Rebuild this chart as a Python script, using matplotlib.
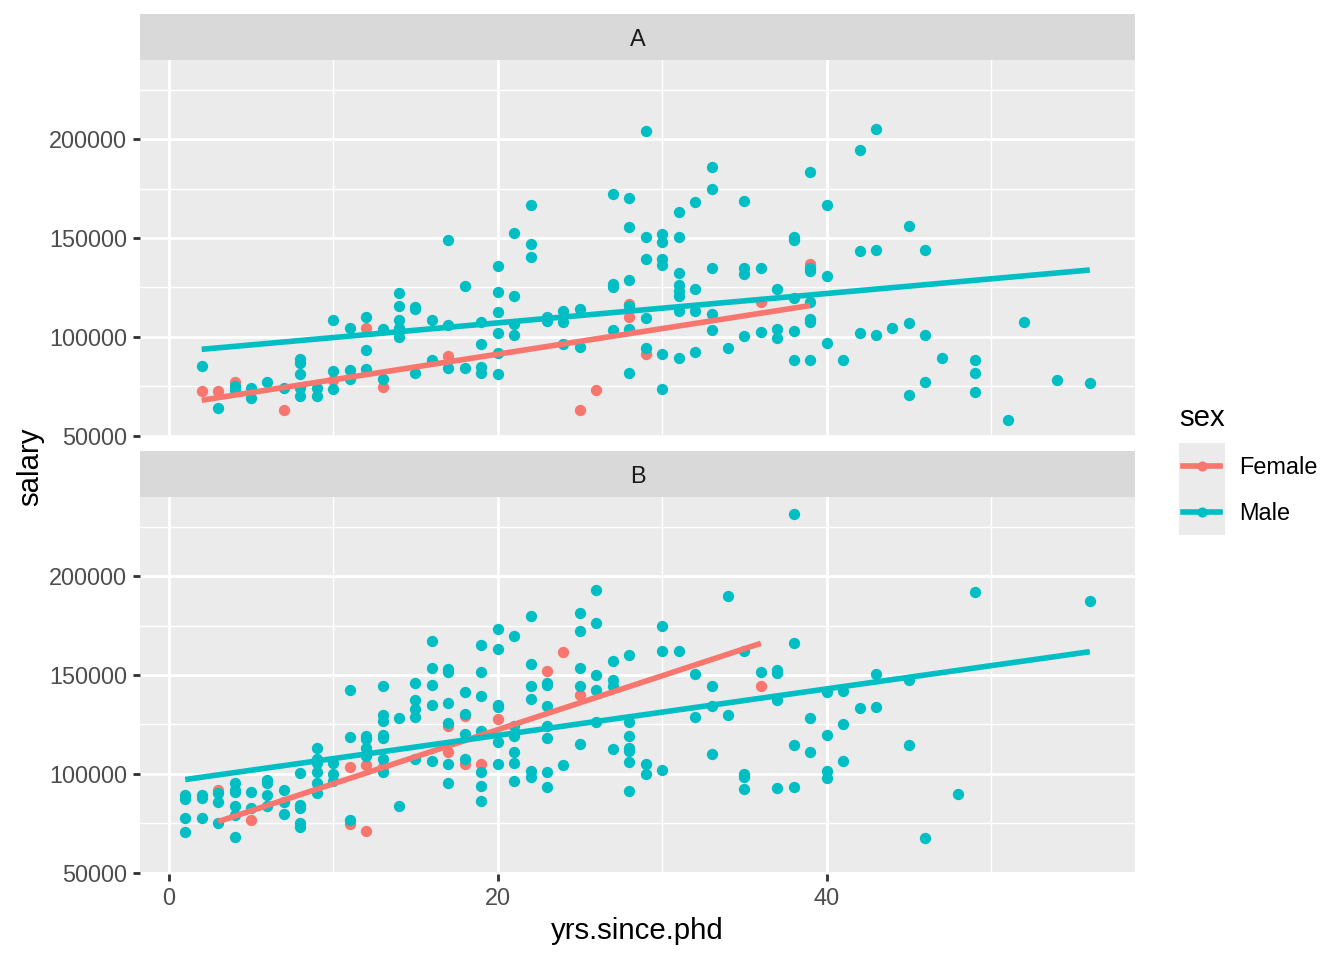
import numpy as np
import matplotlib
matplotlib.use("Agg")
import matplotlib.pyplot as plt
from matplotlib.patches import Rectangle
from matplotlib.lines import Line2D

plt.rcParams['font.family'] = ['Liberation Sans', 'DejaVu Sans']

# (yrs.since.phd, salary)
a_male = [(2, 85000), (3, 64000), (4, 75000), (4, 73000), (5, 74200), (5, 69200), (6, 77300), (7, 74200),
          (8, 88900), (8, 87000), (8, 81000), (8, 74200), (8, 70000), (9, 74200), (9, 70300),
          (10, 108500), (10, 82700), (10, 73700), (11, 104700), (11, 83200), (11, 78500),
          (12, 110000), (12, 93200), (12, 83600), (13, 103900), (13, 78500),
          (14, 122200), (14, 115400), (14, 108500), (14, 104700), (14, 100000),
          (15, 115000), (15, 114000), (15, 81500), (16, 108500), (16, 88300),
          (17, 148800), (17, 106000), (17, 84100), (18, 125900), (18, 84100),
          (19, 107300), (19, 96300), (19, 84700), (19, 81900),
          (20, 135800), (20, 122500), (20, 112400), (20, 102200), (20, 92000), (20, 81400),
          (21, 152500), (21, 120800), (21, 106400), (21, 101000),
          (22, 166800), (22, 147000), (22, 140300), (23, 110200), (23, 108100),
          (24, 112900), (24, 107300), (24, 96600), (25, 114100), (25, 95100),
          (27, 172200), (27, 126800), (27, 125100), (27, 103400),
          (28, 170300), (28, 155600), (28, 128800), (28, 115800), (28, 103900), (28, 81900),
          (29, 203900), (29, 150500), (29, 139200), (29, 109300), (29, 94600),
          (30, 151900), (30, 148000), (30, 139200), (30, 136600), (30, 91200), (30, 73700),
          (31, 163100), (31, 150500), (31, 132200), (31, 126400), (31, 123400), (31, 120800),
          (31, 113200), (31, 89500),
          (32, 168300), (32, 124100), (32, 113200), (32, 92500),
          (33, 186100), (33, 174600), (33, 134700), (33, 111500), (33, 103400),
          (34, 94200), (35, 168800), (35, 134700), (35, 131900), (35, 100300),
          (36, 134700), (36, 102700), (37, 124400), (37, 104200), (37, 99200),
          (38, 150500), (38, 148800), (38, 119700), (38, 103100), (38, 88100),
          (39, 183600), (39, 134900), (39, 133200), (39, 117500), (39, 109000), (39, 107300), (39, 88300),
          (40, 166800), (40, 131000), (40, 97100), (41, 88300),
          (42, 194600), (42, 143400), (42, 101700), (43, 205400), (43, 143700), (43, 101000),
          (44, 104700), (45, 156100), (45, 107100), (45, 70700), (46, 143700), (46, 100700), (46, 77300),
          (47, 89500), (49, 88300), (49, 81900), (49, 72200), (51, 58000), (52, 107300),
          (54, 78100), (56, 76800)]

a_female = [(2, 72500), (3, 72500), (4, 77300), (7, 63000), (10, 78000), (12, 104700), (13, 74600),
            (17, 90500), (25, 63000), (26, 73200), (28, 116600), (28, 109800), (29, 91200),
            (36, 117500), (39, 137000)]

b_male = [(1, 89500), (1, 87400), (1, 77600), (1, 70400), (2, 89500), (2, 88000), (2, 77600),
          (3, 90300), (3, 85700), (3, 75000),
          (4, 95400), (4, 92000), (4, 90800), (4, 83500), (4, 79300), (4, 68200),
          (5, 90800), (5, 82700), (6, 97100), (6, 95400), (6, 89100), (6, 83800),
          (7, 91700), (7, 86000), (7, 79600),
          (8, 100500), (8, 84400), (8, 82700), (8, 75000), (8, 73000),
          (9, 113300), (9, 107300), (9, 105600), (9, 100900), (9, 95400), (9, 90300),
          (10, 105600), (10, 99700), (10, 96300), (11, 142500), (11, 118400), (11, 76700),
          (12, 119200), (12, 117500), (12, 113300), (12, 109000),
          (13, 144700), (13, 129800), (13, 126900), (13, 119600), (13, 117900), (13, 107300), (13, 100900),
          (14, 128100), (14, 83800),
          (15, 145900), (15, 137600), (15, 132800), (15, 128600), (15, 107300),
          (16, 167300), (16, 153500), (16, 145200), (16, 134800), (16, 106500),
          (17, 152900), (17, 151500), (17, 135900), (17, 125700), (17, 105100), (17, 95400),
          (18, 141300), (18, 130300), (18, 120100), (18, 107300),
          (19, 165100), (19, 151500), (19, 139600), (19, 121800), (19, 100900), (19, 94000), (19, 86400),
          (20, 173300), (20, 163100), (20, 135000), (20, 133600), (20, 116200), (20, 104800),
          (21, 169900), (21, 124300), (21, 118900), (21, 111100), (21, 105600), (21, 96300),
          (22, 180100), (22, 155600), (22, 144200), (22, 137900), (22, 101400), (22, 98300),
          (23, 145900), (23, 144800), (23, 134500), (23, 124300), (23, 118000), (23, 100900), (23, 93400),
          (24, 104300),
          (25, 181600), (25, 172400), (25, 153500), (25, 144700), (25, 115000),
          (26, 193200), (26, 176500), (26, 150200), (26, 142500), (26, 126300),
          (27, 157200), (27, 147600), (27, 144400), (27, 112700),
          (28, 160000), (28, 126000), (28, 118900), (28, 113300), (28, 111600), (28, 106100), (28, 91300),
          (29, 105100), (29, 100000), (30, 175000), (30, 162200), (30, 102200), (31, 162200),
          (32, 150300), (32, 128600), (33, 144700), (33, 134200), (33, 109900),
          (34, 189800), (34, 129800), (35, 162400), (35, 100000), (35, 98300), (35, 92400),
          (36, 151500), (37, 152400), (37, 151000), (37, 137600), (37, 92900),
          (38, 231400), (38, 166400), (38, 114400), (38, 93400), (39, 128100), (39, 111300),
          (40, 141300), (40, 119600), (40, 101400), (40, 98000),
          (41, 141700), (41, 125000), (41, 106500), (42, 133200), (43, 150700), (43, 133800),
          (45, 147300), (45, 114800), (46, 67400), (48, 89800), (49, 192100), (56, 187200)]

b_female = [(3, 92000), (5, 76700), (11, 103600), (11, 74500), (12, 104300), (12, 71100), (13, 103600),
            (17, 124000), (17, 111100), (18, 129400), (18, 105100), (19, 104800), (20, 127700),
            (23, 152000), (24, 161400), (25, 140100), (36, 144700)]

panels = ["A", "B"]
sexes = ["Female", "Male"]
colors = {"Female": "#F8766D", "Male": "#00BFC4"}
data = {"A": {"Female": a_female, "Male": a_male},
        "B": {"Female": b_female, "Male": b_male}}

W, H = 1344, 960
fig = plt.figure(figsize=(7, 5), dpi=192)

all_x = np.array([p[0] for g in data.values() for s in g.values() for p in s])
all_y = np.array([p[1] for g in data.values() for s in g.values() for p in s])
xpad = 0.05 * (all_x.max() - all_x.min())
ypad = 0.05 * (all_y.max() - all_y.min())
xlim = (all_x.min() - xpad, all_x.max() + xpad)
ylim = (all_y.min() - ypad, all_y.max() + ypad)

def px_box(x0, y0, x1, y1):
    return [x0 / W, 1 - y1 / H, (x1 - x0) / W, (y1 - y0) / H]

panel_px = {"A": (140, 60, 1135, 437), "B": (140, 497, 1135, 874)}
strip_px = {"A": (140, 14, 1135, 60), "B": (140, 451, 1135, 497)}

axes = {}
for name in panels:
    ax = fig.add_axes(px_box(*panel_px[name]))
    ax.set_facecolor("#EBEBEB")
    for sp in ax.spines.values():
        sp.set_visible(False)
    ax.set_xlim(*xlim)
    ax.set_ylim(*ylim)
    ax.set_xticks([0, 20, 40])
    ax.set_xticks([10, 30, 50], minor=True)
    ax.set_yticks([50000, 100000, 150000, 200000])
    ax.set_yticks([75000, 125000, 175000, 225000], minor=True)
    ax.grid(which="major", color="white", lw=1.07)
    ax.grid(which="minor", color="white", lw=0.53)
    ax.set_axisbelow(True)
    ax.tick_params(which="major", length=2.75, width=1.07, color="#333333",
                   labelsize=8.8, labelcolor="#4D4D4D", pad=2.2)
    ax.tick_params(which="minor", length=0)
    if name == "A":
        ax.tick_params(axis="x", which="major", length=0, labelbottom=False)

    for sex in sexes:
        pts = np.array(data[name][sex])
        ax.scatter(pts[:, 0], pts[:, 1], s=18, color=colors[sex], linewidths=0, zorder=3)
    for sex in sexes:
        pts = np.array(data[name][sex])
        k, b = np.polyfit(pts[:, 0], pts[:, 1], 1)
        xs = np.array([pts[:, 0].min(), pts[:, 0].max()])
        ax.plot(xs, k * xs + b, color=colors[sex], lw=2.1, zorder=4, solid_capstyle="butt")
    axes[name] = ax

    sax = fig.add_axes(px_box(*strip_px[name]))
    sax.set_facecolor("#D9D9D9")
    sax.set_xticks([])
    sax.set_yticks([])
    for sp in sax.spines.values():
        sp.set_visible(False)
    sax.text(0.5, 0.45, name, ha="center", va="center", fontsize=8.8, color="#1A1A1A",
             transform=sax.transAxes)

# overlay in pixel coordinates for titles and legend
ov = fig.add_axes([0, 0, 1, 1])
ov.set_xlim(0, W)
ov.set_ylim(H, 0)
ov.axis("off")
ov.patch.set_alpha(0)

ov.text(637, 931, "yrs.since.phd", ha="center", va="center", fontsize=11)
ov.text(30, 467, "salary", ha="center", va="center", fontsize=11, rotation=90)

ov.text(1179, 418, "sex", ha="left", va="center", fontsize=11)
for i, sex in enumerate(sexes):
    y0 = 443 + 46 * i
    ov.add_patch(Rectangle((1179, y0), 46, 46, facecolor="#EBEBEB", edgecolor="none"))
    cy = y0 + 23
    ov.add_line(Line2D([1183, 1220], [cy, cy], color=colors[sex], lw=2.1))
    ov.plot([1201.5], [cy], "o", color=colors[sex], ms=3.8, mew=0)
    ov.text(1239, cy + 2, sex, ha="left", va="center", fontsize=8.8)

fig.savefig("out.png", dpi=192)
